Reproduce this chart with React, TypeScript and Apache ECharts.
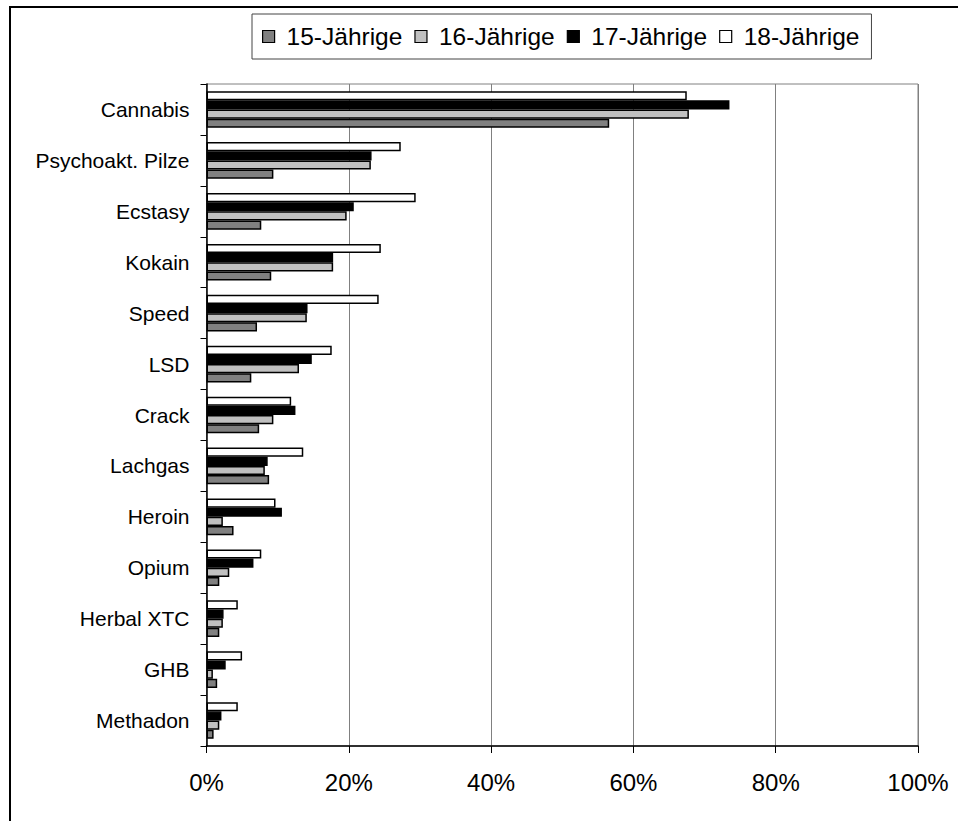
import React, { useEffect, useRef } from "react";
import * as echarts from "echarts";

// Substances, listed top to bottom
const categories = [
  "Cannabis",
  "Psychoakt. Pilze",
  "Ecstasy",
  "Kokain",
  "Speed",
  "LSD",
  "Crack",
  "Lachgas",
  "Heroin",
  "Opium",
  "Herbal XTC",
  "GHB",
  "Methadon",
];

// Lifetime prevalence in percent, per age group
const age15 = [56.6, 9.4, 7.7, 9.1, 7.1, 6.3, 7.4, 8.8, 3.8, 1.8, 1.8, 1.5, 1.0];
const age16 = [67.8, 23.1, 19.7, 17.8, 14.1, 13.0, 9.4, 8.2, 2.3, 3.2, 2.3, 0.9, 1.8];
const age17 = [73.5, 23.2, 20.7, 17.8, 14.2, 14.8, 12.5, 8.6, 10.6, 6.6, 2.4, 2.7, 2.1];
const age18 = [67.5, 27.3, 29.4, 24.5, 24.2, 17.6, 11.9, 13.6, 9.7, 7.7, 4.4, 5.0, 4.4];

const seriesNames = ["15-Jährige", "16-Jährige", "17-Jährige", "18-Jährige"];
const seriesValues = [age15, age16, age17, age18];
const seriesColors = ["#808080", "#c0c0c0", "#000000", "#ffffff"];

const xTicks = { min: 0, max: 100, interval: 20 };

const FONT = "'Liberation Sans', Arial, sans-serif";

export default function App() {
  const ref = useRef<HTMLDivElement>(null);

  useEffect(() => {
    if (!ref.current) return;
    const chart = echarts.init(ref.current, null, { renderer: "svg" });

    // With an inverted category axis the first series sits on top of each
    // group, so the series are added oldest-first to put 15-Jährige at the bottom.
    const series = seriesNames
      .map((name, i) => ({
        name,
        type: "bar" as const,
        data: seriesValues[i],
        barGap: "0%",
        barCategoryGap: "28%",
        itemStyle: {
          color: seriesColors[i],
          borderColor: "#000",
          borderWidth: 1.5,
        },
      }))
      .reverse();

    chart.setOption({
      animation: false,
      backgroundColor: "#fff",
      textStyle: { fontFamily: FONT },
      graphic: [
        {
          type: "rect",
          shape: { x: 10, y: 7, width: 1000, height: 900 },
          style: { fill: "none", stroke: "#000", lineWidth: 2 },
          silent: true,
        },
      ],
      legend: {
        data: seriesNames,
        left: 252,
        top: 14,
        orient: "horizontal",
        icon: "rect",
        itemWidth: 12,
        itemHeight: 12,
        itemGap: 12,
        padding: [10, 12, 10, 10],
        borderColor: "#444",
        borderWidth: 1,
        itemStyle: { borderWidth: 1.2 },
        textStyle: {
          fontFamily: FONT,
          fontSize: 24.5,
          color: "#000",
          padding: [0, 0, 0, 7],
        },
      },
      grid: {
        left: 206.5,
        top: 84,
        width: 711.5,
        height: 662,
        show: true,
        borderColor: "#808080",
        borderWidth: 1,
        containLabel: false,
      },
      xAxis: {
        type: "value",
        min: xTicks.min,
        max: xTicks.max,
        interval: xTicks.interval,
        axisLine: { show: true, lineStyle: { color: "#000", width: 1.5 } },
        axisTick: { show: true, length: 7, lineStyle: { color: "#000" } },
        splitLine: { show: true, lineStyle: { color: "#808080", width: 1 } },
        axisLabel: {
          formatter: "{value}%",
          fontFamily: FONT,
          fontSize: 24,
          color: "#000",
          margin: 24,
        },
      },
      yAxis: {
        type: "category",
        data: categories,
        inverse: true,
        axisLine: { show: true, lineStyle: { color: "#000", width: 1.5 } },
        axisTick: { show: true, length: 6, lineStyle: { color: "#000" } },
        axisLabel: {
          fontFamily: FONT,
          fontSize: 21,
          color: "#000",
          margin: 17,
        },
      },
      series,
    });

    return () => chart.dispose();
  }, []);

  return (
    <div
      ref={ref}
      style={{ position: "fixed", left: 0, top: 0, width: 958, height: 821 }}
    />
  );
}
